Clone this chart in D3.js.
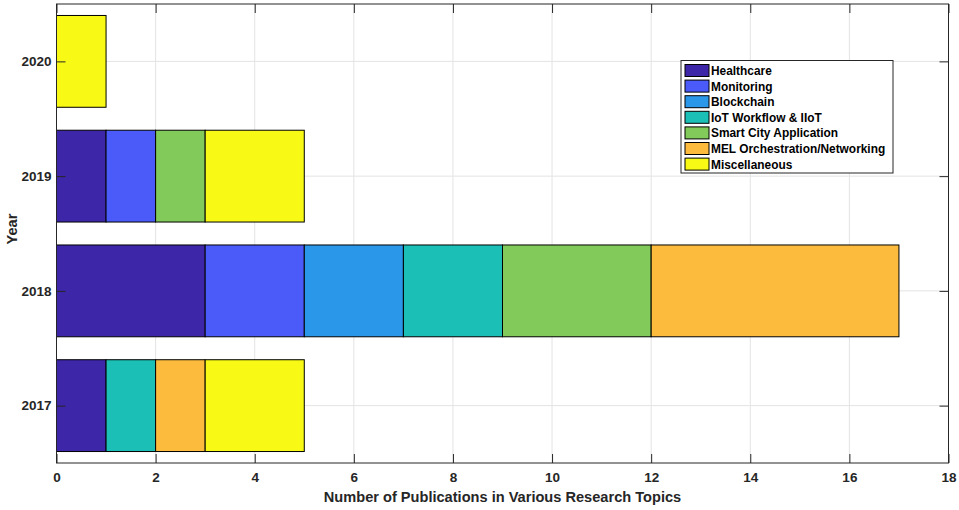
<!DOCTYPE html>
<html><head><meta charset="utf-8">
<script src="https://cdn.jsdelivr.net/npm/d3@7"></script>
<style>body{margin:0;background:#fff;} svg{display:block;font-family:"Liberation Sans",Arial,Helvetica,sans-serif;}</style>
</head><body><svg id="c" width="959" height="510"></svg>
<script>
const years = [2017, 2018, 2019, 2020];
const topics = ["Healthcare","Monitoring","Blockchain","IoT Workflow & IIoT","Smart City Application","MEL Orchestration/Networking","Miscellaneous"];
const healthcare = [1, 3, 1, 0];
const monitoring = [0, 2, 1, 0];
const blockchain = [0, 2, 0, 0];
const iotWorkflow = [1, 2, 0, 0];
const smartCity = [0, 3, 1, 0];
const melOrch = [1, 5, 0, 0];
const misc = [2, 0, 2, 1];
const xTicks = [0,2,4,6,8,10,12,14,16,18];
const colors = ["#3e26a8","#4a5bfa","#2b97e9","#1cbfb5","#82cb5a","#fcbb3d","#f8f914"];

const seriesVals = [healthcare, monitoring, blockchain, iotWorkflow, smartCity, melOrch, misc];
const table = years.map((y,i)=>{const o={year:y}; topics.forEach((t,k)=>o[t]=seriesVals[k][i]); return o;});
const stack = d3.stack().keys(topics)(table);

const svg = d3.select("#c");
const L=56.5, R=948.5, T=4, B=463;
const x = d3.scaleLinear().domain([0,18]).range([L,R]);
const y = d3.scaleLinear().domain([2016.5,2020.5]).range([B,T]);
const bh = (y(2017)-y(2018))*0.8;

// grid
svg.append("g").selectAll("line").data(xTicks).join("line")
  .attr("x1",d=>x(d)).attr("x2",d=>x(d)).attr("y1",T).attr("y2",B)
  .attr("stroke","#e3e3e3").attr("stroke-width",1);
svg.append("g").selectAll("line").data(years).join("line")
  .attr("x1",L).attr("x2",R).attr("y1",d=>y(d)).attr("y2",d=>y(d))
  .attr("stroke","#e3e3e3").attr("stroke-width",1);

// bars
stack.forEach((s,k)=>{
  svg.append("g").selectAll("rect").data(s.filter(d=>d[1]-d[0]>0)).join("rect")
    .attr("x",d=>x(d[0])).attr("width",d=>x(d[1])-x(d[0]))
    .attr("y",d=>y(d.data.year)-bh/2).attr("height",bh)
    .attr("fill",colors[k]).attr("stroke","#000").attr("stroke-width",1);
});

// axes box
svg.append("rect").attr("x",L).attr("y",T).attr("width",R-L).attr("height",B-T)
  .attr("fill","none").attr("stroke","#262626").attr("stroke-width",1);

const xAx = d3.axisBottom(x).tickValues(xTicks).tickSize(-9).tickPadding(9);
const gx = svg.append("g").attr("transform",`translate(0,${B})`).call(xAx);
const xAxT = d3.axisTop(x).tickValues(xTicks).tickSize(-9).tickFormat("");
const gxt = svg.append("g").attr("transform",`translate(0,${T})`).call(xAxT);
const yAx = d3.axisLeft(y).tickValues(years).tickFormat(d3.format("d")).tickSize(-9).tickPadding(5);
const gy = svg.append("g").attr("transform",`translate(${L},0)`).call(yAx);
const yAxR = d3.axisRight(y).tickValues(years).tickSize(-9).tickFormat("");
const gyr = svg.append("g").attr("transform",`translate(${R},0)`).call(yAxR);
[gx,gxt,gy,gyr].forEach(g=>{
  g.select(".domain").remove();
  g.selectAll(".tick line").attr("stroke","#262626");
  g.selectAll("text").attr("fill","#262626").style("font-size","13.5px").style("font-weight","bold").style("font-family","'Liberation Sans',Arial,sans-serif");
});

svg.append("text").attr("x",(L+R)/2).attr("y",502).attr("text-anchor","middle")
  .attr("fill","#262626").style("font-size","14.6px").style("font-weight","bold")
  .text("Number of Publications in Various Research Topics");
svg.append("text").attr("transform",`translate(16.5,229) rotate(-90)`).attr("text-anchor","middle")
  .attr("fill","#262626").style("font-size","14.6px").style("font-weight","bold").text("Year");

// legend
const lg = svg.append("g");
const lx=681, ly=60.5, lw=212, lhgt=112.5, rowH=15.6;
lg.append("rect").attr("x",lx).attr("y",ly).attr("width",lw).attr("height",lhgt)
  .attr("fill","#fff").attr("stroke","#262626").attr("stroke-width",1);
topics.forEach((t,k)=>{
  const cy = ly+10+k*rowH;
  lg.append("rect").attr("x",lx+4).attr("y",cy-6).attr("width",24).attr("height",12)
    .attr("fill",colors[k]).attr("stroke","#000").attr("stroke-width",1);
  lg.append("text").attr("x",lx+30).attr("y",cy+4.5).attr("fill","#000")
    .style("font-size","11.9px").style("font-weight","bold").text(t);
});
</script></body></html>
